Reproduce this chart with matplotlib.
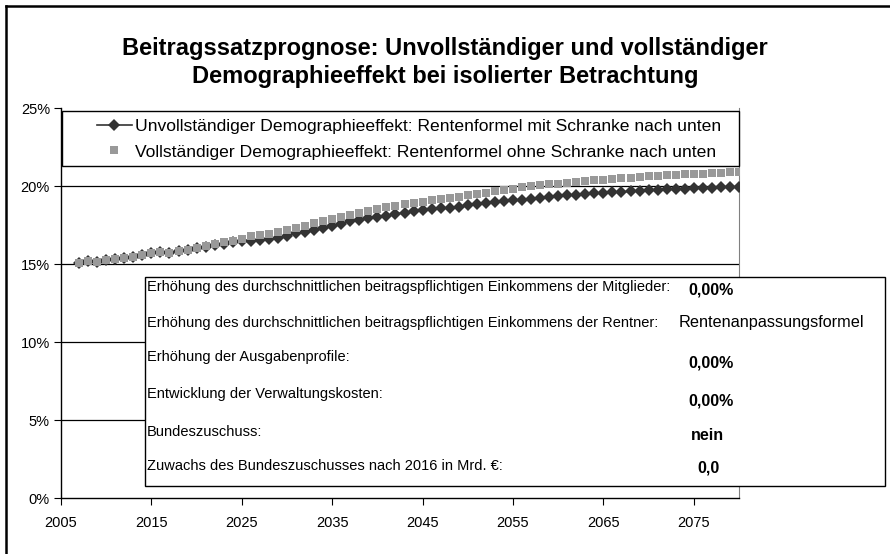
import matplotlib
matplotlib.use("Agg")
import matplotlib.pyplot as plt
from matplotlib.patches import Rectangle
from matplotlib.lines import Line2D
from matplotlib.ticker import FuncFormatter

plt.rcParams['font.family'] = ['Liberation Sans', 'DejaVu Sans']

years = list(range(2007, 2081))
unvollstaendig = [15.05, 15.19, 15.15, 15.24, 15.30, 15.38, 15.45, 15.55, 15.68, 15.77,
                  15.72, 15.83, 15.90, 16.00, 16.12, 16.20, 16.30, 16.38, 16.45, 16.50,
                  16.54, 16.60, 16.69, 16.82, 16.97, 17.05, 17.18, 17.33, 17.46, 17.58,
                  17.74, 17.82, 17.93, 17.99, 18.10, 18.21, 18.29, 18.38, 18.44, 18.53,
                  18.57, 18.62, 18.67, 18.76, 18.83, 18.89, 18.95, 19.02, 19.08, 19.12,
                  19.19, 19.25, 19.29, 19.36, 19.40, 19.44, 19.49, 19.53, 19.55, 19.60,
                  19.62, 19.66, 19.70, 19.73, 19.76, 19.78, 19.80, 19.83, 19.85, 19.87,
                  19.89, 19.91, 19.93, 19.95]
vollstaendig = [15.05, 15.19, 15.15, 15.24, 15.30, 15.38, 15.45, 15.55, 15.68, 15.77,
                15.72, 15.83, 15.90, 16.00, 16.15, 16.26, 16.40, 16.50, 16.62, 16.78,
                16.84, 16.90, 17.03, 17.18, 17.33, 17.44, 17.61, 17.76, 17.88, 18.01,
                18.16, 18.29, 18.42, 18.53, 18.63, 18.74, 18.83, 18.91, 19.00, 19.08,
                19.15, 19.23, 19.31, 19.40, 19.49, 19.57, 19.68, 19.74, 19.83, 19.91,
                19.98, 20.04, 20.11, 20.15, 20.21, 20.26, 20.30, 20.36, 20.40, 20.45,
                20.49, 20.53, 20.58, 20.62, 20.65, 20.68, 20.71, 20.74, 20.77, 20.80,
                20.83, 20.86, 20.88, 20.90]

series_labels = ["Unvollständiger Demographieeffekt: Rentenformel mit Schranke nach unten",
                 "Vollständiger Demographieeffekt: Rentenformel ohne Schranke nach unten"]
title = "Beitragssatzprognose: Unvollständiger und vollständiger\nDemographieeffekt bei isolierter Betrachtung"
x_ticks = [2005, 2015, 2025, 2035, 2045, 2055, 2065, 2075]
y_ticks = [0, 5, 10, 15, 20, 25]

param_labels = ["Erhöhung des durchschnittlichen beitragspflichtigen Einkommens der Mitglieder:",
                "Erhöhung des durchschnittlichen beitragspflichtigen Einkommens der Rentner:",
                "Erhöhung der Ausgabenprofile:",
                "Entwicklung der Verwaltungskosten:",
                "Bundeszuschuss:",
                "Zuwachs des Bundeszuschusses nach 2016 in Mrd. €:"]
param_values = ["0,00%", "Rentenanpassungsformel", "0,00%", "0,00%", "nein", "0,0"]
param_bold = [True, False, True, True, True, True]

W, H = 890, 554
fig = plt.figure(figsize=(W / 100, H / 100), dpi=100)

def fx(px):
    return px / W

def fy(py):
    return 1 - py / H

# outer frame (top and left)
fig.add_artist(Line2D([fx(6), 1], [fy(6), fy(6)], color='black', lw=1.8))
fig.add_artist(Line2D([fx(6), fx(6)], [fy(6), 0], color='black', lw=1.8))

ax = fig.add_axes([fx(61), fy(498), fx(739) - fx(61), fy(108) - fy(498)])
ax.set_xlim(2005, 2080)
ax.set_ylim(0, 25)
ax.set_xticks(x_ticks)
ax.set_yticks(y_ticks)
ax.yaxis.set_major_formatter(FuncFormatter(lambda v, p: f"{int(v)}%"))
ax.tick_params(labelsize=10.5, length=5, width=0.8, color='black', direction='out')
ax.tick_params(axis='x', pad=8)
ax.tick_params(axis='y', pad=3)
ax.spines['top'].set_visible(False)
ax.spines['right'].set_color('#808080')
ax.spines['left'].set_linewidth(1.0)
ax.spines['bottom'].set_linewidth(1.0)
for v in [5, 10, 15, 20]:
    ax.axhline(v, color='black', lw=0.9, zorder=1)

ax.plot(years, unvollstaendig, color='#333333', lw=1.2, marker='D', markersize=6.0,
        markeredgewidth=0, zorder=3, label=series_labels[0])
ax.plot(years, vollstaendig, color='#999999', lw=0, marker='s', markersize=5.6,
        markeredgewidth=0, zorder=4, label=series_labels[1])

fig.suptitle(title, x=0.5, y=fy(37), fontsize=17, fontweight='bold', va='top', linespacing=1.3)

# legend box
fig.add_artist(Rectangle((fx(62), fy(166)), fx(739) - fx(62), fy(111) - fy(166),
                         facecolor='white', edgecolor='black', lw=1.0, zorder=5))
handles = [Line2D([], [], color='#333333', lw=1.2, marker='D', markersize=6.0, markeredgewidth=0),
           Line2D([], [], color='#999999', lw=0, marker='s', markersize=5.6, markeredgewidth=0)]
leg = fig.legend(handles, series_labels, loc='center', bbox_to_anchor=(fx(409), fy(139)),
                 frameon=False, fontsize=12.6, handlelength=2.0, handletextpad=0.2,
                 labelspacing=0.6)
leg.set_zorder(6)

# parameter box
fig.add_artist(Rectangle((fx(145), fy(486)), fx(885) - fx(145), fy(277) - fy(486),
                         facecolor='white', edgecolor='black', lw=1.0, zorder=5))
row_y = [287, 323, 357, 394, 432, 466]
val_y = [290, 323, 363, 401, 435, 468]
val_x = [711, 771, 711, 711, 707, 708]
val_size = [11.5, 11.7, 11.5, 11.5, 11.5, 11.5]
for lab, val, b, ry, vy, vx, vs in zip(param_labels, param_values, param_bold, row_y, val_y, val_x, val_size):
    fig.text(fx(147), fy(ry), lab, fontsize=10.5, va='center', ha='left', zorder=7)
    fig.text(fx(vx), fy(vy), val, fontsize=vs, va='center', ha='center',
             fontweight='bold' if b else 'normal', zorder=7)

fig.savefig("out.png", dpi=100)
